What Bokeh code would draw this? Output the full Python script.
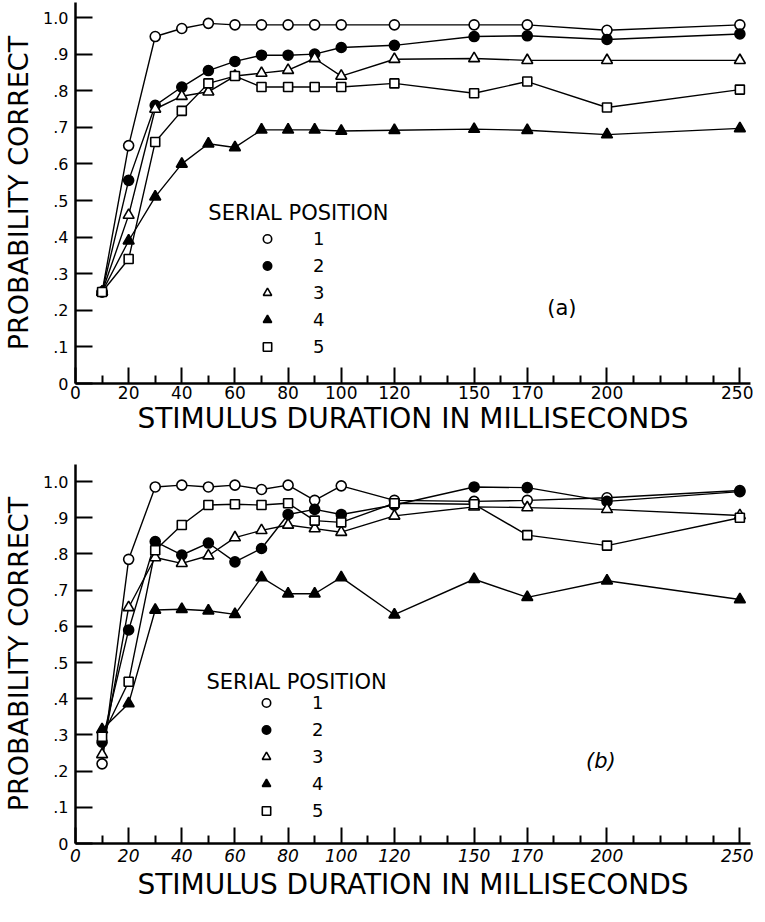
from bokeh.plotting import figure
from bokeh.models import FixedTicker, Label, Legend, LegendItem, Range1d
from bokeh.layouts import column
from bokeh.embed import file_html
from bokeh.resources import INLINE

# ---- data ----
durations = [10, 20, 30, 40, 50, 60, 70, 80, 90, 100, 120, 150, 170, 200, 250]
positions = ["1", "2", "3", "4", "5"]

a_pos1 = [0.25, 0.65, 0.948, 0.97, 0.984, 0.98, 0.98, 0.98, 0.98, 0.98, 0.98, 0.98, 0.98, 0.965, 0.98]
a_pos2 = [0.25, 0.555, 0.76, 0.81, 0.855, 0.88, 0.897, 0.897, 0.90, 0.918, 0.924, 0.948, 0.95, 0.94, 0.955]
a_pos3 = [0.25, 0.46, 0.75, 0.785, 0.797, 0.84, 0.848, 0.856, 0.888, 0.84, 0.886, 0.888, 0.883, 0.883, 0.883]
a_pos4 = [0.25, 0.39, 0.51, 0.60, 0.655, 0.645, 0.693, 0.693, 0.693, 0.69, 0.692, 0.695, 0.692, 0.68, 0.697]
a_pos5 = [0.25, 0.34, 0.66, 0.745, 0.82, 0.84, 0.81, 0.81, 0.81, 0.81, 0.82, 0.793, 0.825, 0.754, 0.803]

b_pos1 = [0.22, 0.785, 0.985, 0.99, 0.985, 0.99, 0.978, 0.99, 0.948, 0.988, 0.948, 0.945, 0.948, 0.955, 0.975]
b_pos2 = [0.28, 0.59, 0.834, 0.797, 0.83, 0.778, 0.815, 0.909, 0.923, 0.909, 0.935, 0.985, 0.983, 0.945, 0.972]
b_pos3 = [0.246, 0.652, 0.79, 0.774, 0.795, 0.845, 0.865, 0.88, 0.87, 0.86, 0.905, 0.93, 0.928, 0.923, 0.906]
b_pos4 = [0.315, 0.387, 0.645, 0.647, 0.643, 0.633, 0.735, 0.69, 0.69, 0.735, 0.632, 0.73, 0.68, 0.726, 0.674]
b_pos5 = [0.295, 0.447, 0.81, 0.88, 0.935, 0.937, 0.935, 0.94, 0.892, 0.887, 0.94, 0.937, 0.852, 0.823, 0.90]

x_major_ticks = [0, 20, 40, 60, 80, 100, 120, 150, 170, 200, 250]
x_minor_ticks = [10, 30, 50, 70, 90, 110, 130, 140, 160, 180, 190, 210, 220, 230, 240]
y_ticks = [0, 0.1, 0.2, 0.3, 0.4, 0.5, 0.6, 0.7, 0.8, 0.9, 1.0]
y_tick_labels = ["0", ".1", ".2", ".3", ".4", ".5", ".6", ".7", ".8", ".9", "1.0"]

X_TITLE = "STIMULUS DURATION IN MILLISECONDS"
Y_TITLE = "PROBABILITY CORRECT"
LEGEND_TITLE = "SERIAL POSITION"

FONT = "DejaVu Sans"

STYLES = [
    dict(marker="circle", fill_color="white", size=10),
    dict(marker="circle", fill_color="black", size=10),
    dict(marker="triangle", fill_color="white", size=11),
    dict(marker="triangle", fill_color="black", size=11),
    dict(marker="square", fill_color="white", size=9),
]


def make_panel(series, y_top, frame_h, top_b, bottom_b, italic, tag, tag_xy,
               title_xy, legend_loc, xlab_standoff, xtitle_standoff):
    p = figure(frame_width=675, frame_height=frame_h,
               x_range=Range1d(0, 254), y_range=Range1d(0, y_top),
               output_backend="svg", toolbar_location=None,
               min_border_left=71, min_border_right=3,
               min_border_top=top_b, min_border_bottom=bottom_b)
    p.outline_line_color = None
    p.xgrid.visible = False
    p.ygrid.visible = False
    p.background_fill_color = "white"

    marks = []
    for ys in series:
        p.line(durations, ys, line_color="black", line_width=1.4)
    for ys, st in zip(series, STYLES):
        marks.append(p.scatter(durations, ys, marker=st["marker"], size=st["size"],
                               fill_color=st["fill_color"], line_color="black",
                               line_width=1.6))

    # x axis
    xa = p.xaxis[0]
    xa.ticker = FixedTicker(ticks=x_major_ticks, minor_ticks=x_minor_ticks)
    xa.axis_line_width = 2.5
    xa.major_tick_in = 16
    xa.major_tick_out = 0
    xa.minor_tick_in = 8
    xa.minor_tick_out = 0
    xa.major_tick_line_width = 2
    xa.minor_tick_line_width = 2
    xa.major_label_text_font = FONT
    xa.major_label_text_font_size = "17px"
    xa.major_label_text_color = "black"
    if italic:
        xa.major_label_text_font_style = "italic"
    xa.major_label_standoff = xlab_standoff
    xa.axis_label = X_TITLE
    xa.axis_label_text_font = FONT
    xa.axis_label_text_font_size = "28px"
    xa.axis_label_text_font_style = "normal"
    xa.axis_label_text_color = "black"
    xa.axis_label_standoff = xtitle_standoff

    # y axis
    ya = p.yaxis[0]
    ya.ticker = FixedTicker(ticks=y_ticks, minor_ticks=[])
    ya.major_label_overrides = {t: s for t, s in zip(y_ticks, y_tick_labels)}
    ya.axis_line_width = 2.5
    ya.major_tick_in = 17
    ya.major_tick_out = 0
    ya.major_tick_line_width = 2
    ya.major_label_text_font = FONT
    ya.major_label_text_font_size = "16px"
    ya.major_label_text_color = "black"
    ya.major_label_standoff = 7
    ya.axis_label = Y_TITLE
    ya.axis_label_text_font = FONT
    ya.axis_label_text_font_size = "27px"
    ya.axis_label_text_font_style = "normal"
    ya.axis_label_text_color = "black"
    ya.axis_label_standoff = 6

    # legend
    items = [LegendItem(label=lab, renderers=[r]) for lab, r in zip(positions, marks)]
    leg = Legend(items=items, location=legend_loc, orientation="vertical",
                 glyph_width=30, glyph_height=21, label_standoff=31,
                 label_height=21, spacing=6, padding=0, margin=0,
                 border_line_color=None, background_fill_alpha=0,
                 label_text_font=FONT, label_text_font_size="18px",
                 label_text_color="black")
    p.add_layout(leg)

    p.add_layout(Label(x=title_xy[0], y=title_xy[1], text=LEGEND_TITLE,
                       text_align="left", text_baseline="middle",
                       text_font=FONT, text_font_size="21px", text_color="black"))
    p.add_layout(Label(x=tag_xy[0], y=tag_xy[1], text=tag,
                       text_align="center", text_baseline="middle",
                       text_font=FONT, text_font_size="21px", text_color="black",
                       text_font_style="italic" if italic else "normal"))
    return p


pa = make_panel([a_pos1, a_pos2, a_pos3, a_pos4, a_pos5], 1.041, 381, 2, 60,
                False, "(a)", (183, 0.205), (50, 0.4645), (177, 26), 2, 0)
pb = make_panel([b_pos1, b_pos2, b_pos3, b_pos4, b_pos5], 1.047, 379, 21, 62,
                True, "(b)", (197.7, 0.229), (49.3, 0.4448), (176, 22), 5, 3)

layout = column(pa, pb, spacing=0)
open("out.html", "w").write(file_html(layout, INLINE))
